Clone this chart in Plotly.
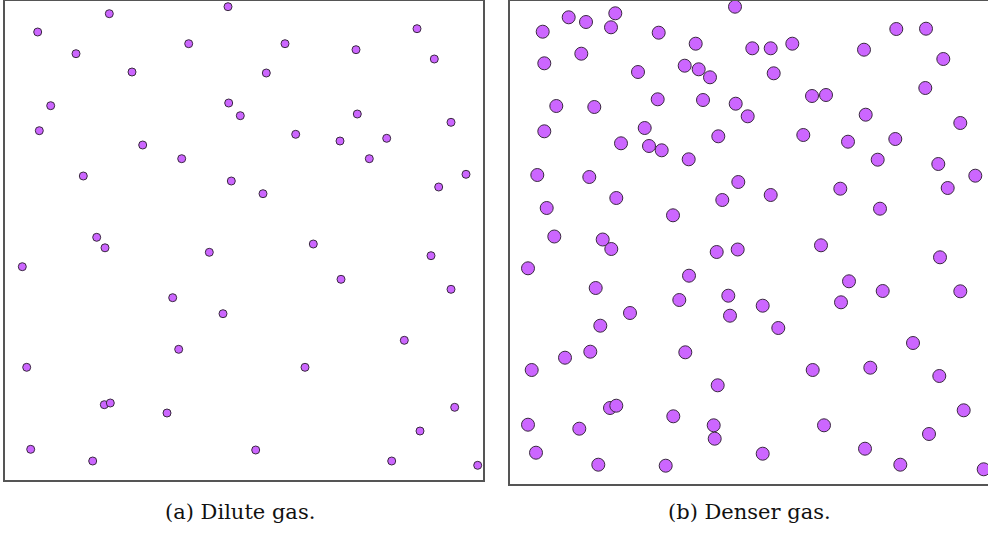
import plotly.graph_objects as go

W, H = 988, 538

# Panel (a): dilute gas — particle centres, in box units (origin top-left of the box)
dilute_x = [109.3, 228, 37.7, 188.7, 76, 132, 50.7, 228.7, 240.3, 39.3, 142.7, 181.7, 83.3, 231.3,
            96.7, 105, 209.3, 417, 285, 356, 434.3, 266.3, 357.3, 451, 295.7, 340, 386.7, 369.3,
            466, 438.7, 263, 313.3, 22.3, 172.7, 223, 178.7, 26.7, 104.3, 110.3, 167, 30.7, 92.7,
            431, 341, 451, 404.3, 305, 454.7, 420, 255.7, 391.7, 477.7]
dilute_y = [13.7, 6.7, 32, 43.7, 53.7, 72, 105.7, 103, 115.7, 130.7, 145, 158.7, 176, 181,
            237.3, 247.8, 252.3, 28.7, 43.7, 49.7, 59, 73, 114, 122.3, 134.3, 141, 138.3, 158.7,
            174.3, 187, 193.7, 244, 266.7, 297.7, 313.7, 349.3, 367.3, 404.7, 403, 413, 449.3, 461,
            255.7, 279.3, 289.3, 340.3, 367.3, 407.3, 431, 450, 461, 465.3]

# Panel (b): denser gas
dense_x = [568.7, 586, 615.3, 611, 542.7, 658.7, 735, 695.7, 544.3, 581.3, 638, 684.7, 698.7, 710,
           556.3, 594.3, 657.7, 703, 735.7, 747.7, 544.3, 644.7, 621, 649, 661.7, 718.3, 688.7,
           537.3, 589.3, 738.3, 616.3, 722.3, 546.7, 673, 554.3, 602.7, 611.3, 716.7, 737.7,
           896.3, 926, 752.3, 770.7, 792.3, 864, 943.3, 773.7, 925.3, 812, 826, 865.7, 960.3,
           803.3, 848, 895.3, 877.7, 938.3, 975.3, 770.7, 840.3, 947.7, 880, 821,
           528, 689, 595.7, 679.3, 728.3, 630, 730, 600.3, 590.3, 565, 685.3, 531.7, 717.7, 610,
           616.3, 673.3, 528, 579.3, 713.7, 714.7, 536, 598.3, 665.7,
           940, 849, 882.7, 960.3, 762.7, 841, 778.3, 913, 812.7, 870.3, 939.3, 963.7, 824, 929,
           762.7, 865, 900.3, 983.7]
dense_y = [17.3, 22, 13.3, 27.3, 31.7, 32.7, 6.7, 43.7, 63.3, 53.7, 72, 65.7, 69.3, 77.3,
           106, 107, 99.3, 100, 103.7, 116.3, 131.3, 128, 143.3, 146, 150.3, 136.3, 159.3,
           175, 177, 182, 198, 200, 208, 215.3, 236.5, 239.5, 249, 252, 249.5,
           29, 28.7, 48.3, 48.3, 43.7, 49.7, 59, 73.3, 88, 96, 95, 114.7, 123,
           135, 141.7, 139, 159.7, 164, 175.7, 195, 188.7, 188, 208.7, 245.3,
           268.3, 275.7, 288, 300, 295.7, 313, 315.7, 325.7, 351.7, 357.7, 352.3, 370, 385.3, 408,
           405.7, 416.3, 424.7, 428.7, 425.3, 438.7, 452.7, 464.7, 465.7,
           257.3, 281.3, 291, 291.3, 305.7, 302.3, 328, 343, 370, 367.7, 376, 410.3, 425.3, 434,
           453.7, 448.7, 464.7, 469.3]

captions = ["(a) Dilute gas.", "(b) Denser gas."]

# box geometry (pixels)
A_L, A_R, A_T, A_B = 5, 483, 1, 480
B_L, B_R, B_T, B_B = 510, 988, 1, 484

FILL = "#cc66ff"
EDGE = "#3a2a40"

fig = go.Figure()
fig.add_trace(go.Scatter(x=[v - A_L for v in dilute_x], y=[v - A_T for v in dilute_y],
                         mode="markers", xaxis="x", yaxis="y", cliponaxis=False,
                         marker=dict(size=8, color=FILL, line=dict(color=EDGE, width=1)),
                         hoverinfo="skip", showlegend=False))
fig.add_trace(go.Scatter(x=[v - B_L for v in dense_x], y=[v - B_T for v in dense_y],
                         mode="markers", xaxis="x2", yaxis="y2", cliponaxis=False,
                         marker=dict(size=13, color=FILL, line=dict(color=EDGE, width=1)),
                         hoverinfo="skip", showlegend=False))

def ax(**kw):
    base = dict(showgrid=False, zeroline=False, showticklabels=False, ticks="",
                linecolor="#555555", linewidth=2, showline=True)
    base.update(kw)
    return base

cap_font = dict(family="DejaVu Serif", size=21, color="#111111")

fig.update_layout(
    width=W, height=H, margin=dict(l=0, r=0, t=0, b=0),
    paper_bgcolor="white", plot_bgcolor="white",
    xaxis=ax(domain=[A_L / W, A_R / W], range=[0, A_R - A_L], mirror=True, anchor="y"),
    yaxis=ax(domain=[1 - A_B / H, 1 - A_T / H], range=[A_B - A_T, 0], mirror=True, anchor="x"),
    xaxis2=ax(domain=[B_L / W, 1], range=[0, B_R - B_L], mirror=True, anchor="y2"),
    yaxis2=ax(domain=[1 - B_B / H, 1 - B_T / H], range=[B_B - B_T, 0], mirror=False, anchor="x2"),
    annotations=[
        dict(text=captions[0], x=240 / W, y=1 - 512 / H, xref="paper", yref="paper",
             xanchor="center", yanchor="middle", showarrow=False, font=cap_font),
        dict(text=captions[1], x=749 / W, y=1 - 512 / H, xref="paper", yref="paper",
             xanchor="center", yanchor="middle", showarrow=False, font=cap_font),
    ],
)

fig.write_html("out.html")
